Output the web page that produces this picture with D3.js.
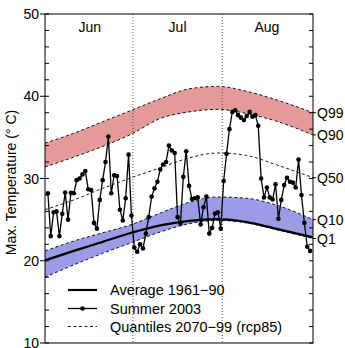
<!DOCTYPE html>
<html><head><meta charset="utf-8">
<script src="https://cdn.jsdelivr.net/npm/d3@7/dist/d3.min.js"></script>
<style>body{margin:0;background:#fff}svg{display:block;font-family:"Liberation Sans",Arial,sans-serif}</style>
</head><body><svg id="c" width="345" height="348"></svg>
<script>
// Summer 2003 daily max temperature (Jun 1 .. Aug 31)
const summer2003 = [28.2,23.0,25.9,26.0,23.0,25.7,28.3,25.0,28.25,28.2,
  29.8,30.0,30.5,30.9,28.7,28.6,24.6,23.9,27.4,29.8,
  32.0,35.1,28.2,30.4,30.3,26.2,24.9,27.6,32.9,25.5,
  21.6,21.1,22.0,21.5,23.3,25.3,27.8,28.8,29.6,31.1,
  31.7,32.0,34.0,33.4,33.1,25.3,24.5,30.2,33.3,29.1,
  27.5,27.6,27.7,24.4,26.5,27.8,23.3,24.0,25.75,25.9,
  23.9,29.7,33.0,36.0,38.1,38.3,37.7,37.4,37.1,37.6,
  38.1,37.5,37.7,36.4,30.0,27.7,28.9,27.7,27.45,29.3,
  25.1,27.4,29.2,30.1,29.6,29.5,28.9,32.3,28.0,24.6,
  21.7,21.2];
const dayIndex = summer2003.map((d, i) => i);
// Seasonal curves sampled at day indices
const curveDays = [-1, 9, 19, 29, 39, 49, 59, 69, 79, 92];
const q99 = [34.3, 35.5, 36.9, 38.3, 39.7, 40.9, 41.2, 40.6, 39.6, 38.0];
const q90 = [31.4, 32.6, 33.9, 35.4, 37.3, 38.1, 38.4, 37.9, 37.0, 35.3];
const q50 = [26.2, 27.4, 28.8, 30.1, 31.3, 32.5, 33.1, 32.8, 31.7, 30.1];
const q10 = [21.2, 22.4, 23.4, 24.4, 25.8, 27.1, 27.75, 27.6, 26.8, 25.0];
const q1  = [18.0, 19.5, 20.9, 22.2, 23.5, 24.5, 24.9, 24.6, 23.8, 22.7];
const avg = [20.05, 21.2, 22.3, 23.4, 24.3, 24.85, 25.05, 24.7, 23.9, 22.85];
const months = ["Jun", "Jul", "Aug"];
const monthStart = [0, 30, 61, 92];
const yTicks = [10, 20, 30, 40, 50];
const qLabels = ["Q99", "Q90", "Q50", "Q10", "Q1"];
const legendLabels = ["Average 1961\u221290", "Summer 2003", "Quantiles 2070\u221299 (rcp85)"];

const svg = d3.select("#c");
const L = 45, R = 313, T = 14, B = 343;
const x = d3.scaleLinear().domain([-1, 92]).range([L, R]);
const y = d3.scaleLinear().domain([10, 50]).range([B, T]);
const curve = d3.curveMonotoneX;

function band(lo, hi, fill) {
  const pts = curveDays.map((d, i) => ({d, lo: lo[i], hi: hi[i]}));
  svg.append("path").datum(pts)
    .attr("d", d3.area().curve(curve).x(p => x(p.d)).y0(p => y(p.lo)).y1(p => y(p.hi)))
    .attr("fill", fill).attr("stroke", "none");
}
function line(vals, w, dash) {
  const pts = curveDays.map((d, i) => ({d, v: vals[i]}));
  svg.append("path").datum(pts)
    .attr("d", d3.line().curve(curve).x(p => x(p.d)).y(p => y(p.v)))
    .attr("fill", "none").attr("stroke", "#000").attr("stroke-width", w)
    .attr("stroke-dasharray", dash);
}
band(q90, q99, "#e59a9a");
band(q1, q10, "#9b9be6");
[q99, q90, q50, q10, q1].forEach(q => line(q, 0.9, "3,2.5"));
line(avg, 2.2, null);

// month separators
[1, 2].forEach(k => {
  svg.append("line").attr("x1", x(monthStart[k] - 0.5)).attr("x2", x(monthStart[k] - 0.5))
    .attr("y1", T).attr("y2", B).attr("stroke", "#555").attr("stroke-width", 1)
    .attr("stroke-dasharray", "1,2");
});
months.forEach((m, k) => {
  svg.append("text").attr("x", x((monthStart[k] - 0.5 + monthStart[k + 1] - 0.5) / 2))
    .attr("y", 32).attr("text-anchor", "middle").attr("font-size", 14).text(m);
});

// Summer 2003
svg.append("path").datum(dayIndex)
  .attr("d", d3.line().x(i => x(i)).y(i => y(summer2003[i])))
  .attr("fill", "none").attr("stroke", "#000").attr("stroke-width", 1.3);
svg.selectAll("circle.p").data(dayIndex).join("circle").attr("class", "p")
  .attr("cx", i => x(i)).attr("cy", i => y(summer2003[i])).attr("r", 2.3).attr("fill", "#000");

// frame and ticks
svg.append("rect").attr("x", L).attr("y", T).attr("width", R - L).attr("height", B - T)
  .attr("fill", "none").attr("stroke", "#000").attr("stroke-width", 1);
const minor = d3.range(10, 51, 2);
minor.forEach(v => {
  svg.append("line").attr("x1", L).attr("x2", L + 4).attr("y1", y(v)).attr("y2", y(v)).attr("stroke", "#000");
  svg.append("line").attr("x1", R).attr("x2", R - 4).attr("y1", y(v)).attr("y2", y(v)).attr("stroke", "#000");
});
yTicks.forEach(v => {
  svg.append("line").attr("x1", L - 5).attr("x2", L).attr("y1", y(v)).attr("y2", y(v)).attr("stroke", "#000");
  svg.append("text").attr("x", L - 6).attr("y", y(v)).attr("dy", "0.36em").attr("text-anchor", "end")
    .attr("font-size", 14).text(v);
});
svg.append("text").attr("transform", `translate(16,${(T + B) / 2 + 4}) rotate(-90)`)
  .attr("text-anchor", "middle").attr("font-size", 14).text("Max. Temperature (\u00b0 C)");

// quantile labels
[q99, q90, q50, q10, q1].forEach((q, k) => {
  const yy = y(q[q.length - 1]);
  svg.append("line").attr("x1", R).attr("x2", R + 3).attr("y1", yy).attr("y2", yy).attr("stroke", "#000");
  svg.append("text").attr("x", R + 4).attr("y", yy).attr("dy", "0.36em").attr("font-size", 14).text(qLabels[k]);
});

// legend
const lgY = [290, 308.5, 326.5];
svg.append("line").attr("x1", 68).attr("x2", 97).attr("y1", lgY[0]).attr("y2", lgY[0]).attr("stroke", "#000").attr("stroke-width", 2.2);
svg.append("line").attr("x1", 68).attr("x2", 97).attr("y1", lgY[1]).attr("y2", lgY[1]).attr("stroke", "#000").attr("stroke-width", 1.3);
svg.append("circle").attr("cx", 82.5).attr("cy", lgY[1]).attr("r", 2.3).attr("fill", "#000");
svg.append("line").attr("x1", 68).attr("x2", 97).attr("y1", lgY[2]).attr("y2", lgY[2]).attr("stroke", "#000").attr("stroke-width", 0.9).attr("stroke-dasharray", "3,2.5");
legendLabels.forEach((t, k) => {
  svg.append("text").attr("x", 110).attr("y", lgY[k]).attr("dy", "0.36em").attr("font-size", 14.5).text(t);
});
</script></body></html>
